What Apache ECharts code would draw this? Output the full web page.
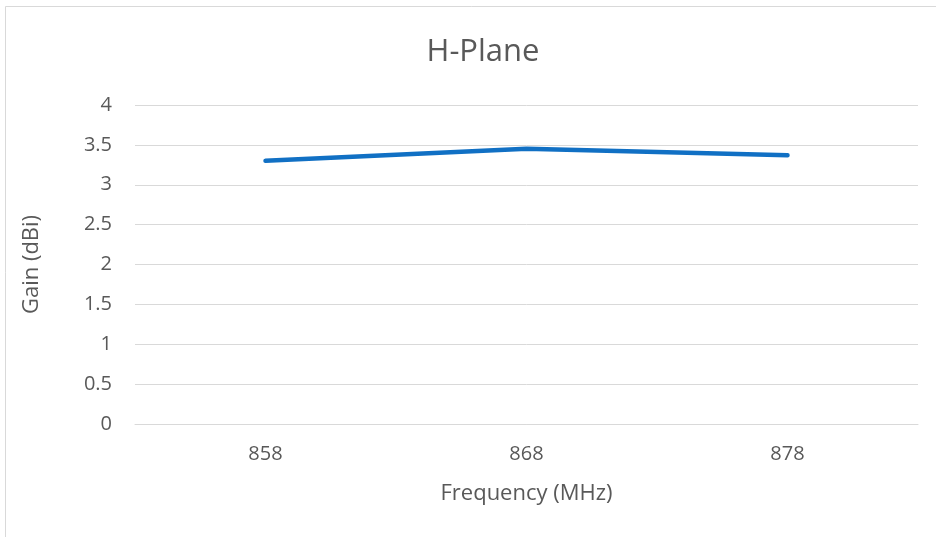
<!DOCTYPE html>
<html><head><meta charset="utf-8">
<script src="https://cdn.jsdelivr.net/npm/echarts@6/dist/echarts.min.js"></script>
<style>html,body{margin:0;padding:0;background:#fff}#c{width:936px;height:537px}</style>
</head><body><div id="c"></div>
<script>
const categories = ['858', '868', '878'];
const gain = [3.30, 3.45, 3.37];
const titleText = 'H-Plane';
const xName = 'Frequency (MHz)';
const yName = 'Gain (dBi)';
const ff = "'Open Sans', sans-serif";
const chart = echarts.init(document.getElementById('c'), null, {renderer: 'canvas'});
chart.setOption({
  animation: false,
  backgroundColor: '#fff',
  graphic: [{type: 'rect', shape: {x: 5.5, y: 6.5, width: 960, height: 560}, style: {fill: 'none', stroke: '#d9d9d9', lineWidth: 1}}],
  title: {text: titleText, left: 478, top: 32, textAlign: 'center',
    textStyle: {fontFamily: ff, fontSize: 31, fontWeight: 'normal', color: '#595959'}},
  grid: {left: 135, right: 18, top: 105, bottom: 113},
  xAxis: {type: 'category', data: categories, boundaryGap: true,
    name: xName, nameLocation: 'middle', nameGap: 59,
    nameTextStyle: {fontFamily: ff, fontSize: 22, color: '#595959'},
    axisLine: {show: true, lineStyle: {color: '#d9d9d9'}}, axisTick: {show: false},
    axisLabel: {fontFamily: ff, fontSize: 20, color: '#595959', margin: 20}},
  yAxis: {type: 'value', min: 0, max: 4, interval: 0.5,
    name: yName, nameLocation: 'middle', nameGap: 92,
    nameTextStyle: {fontFamily: ff, fontSize: 22, color: '#595959'},
    axisLine: {show: false}, axisTick: {show: false},
    splitLine: {lineStyle: {color: '#d9d9d9', width: 1}},
    axisLabel: {fontFamily: ff, fontSize: 20, color: '#595959', margin: 23}},
  series: [{type: 'line', data: gain, symbol: 'none',
    lineStyle: {color: '#1170c4', width: 4.5, cap: 'round', join: 'round'}}]
});
</script></body></html>
